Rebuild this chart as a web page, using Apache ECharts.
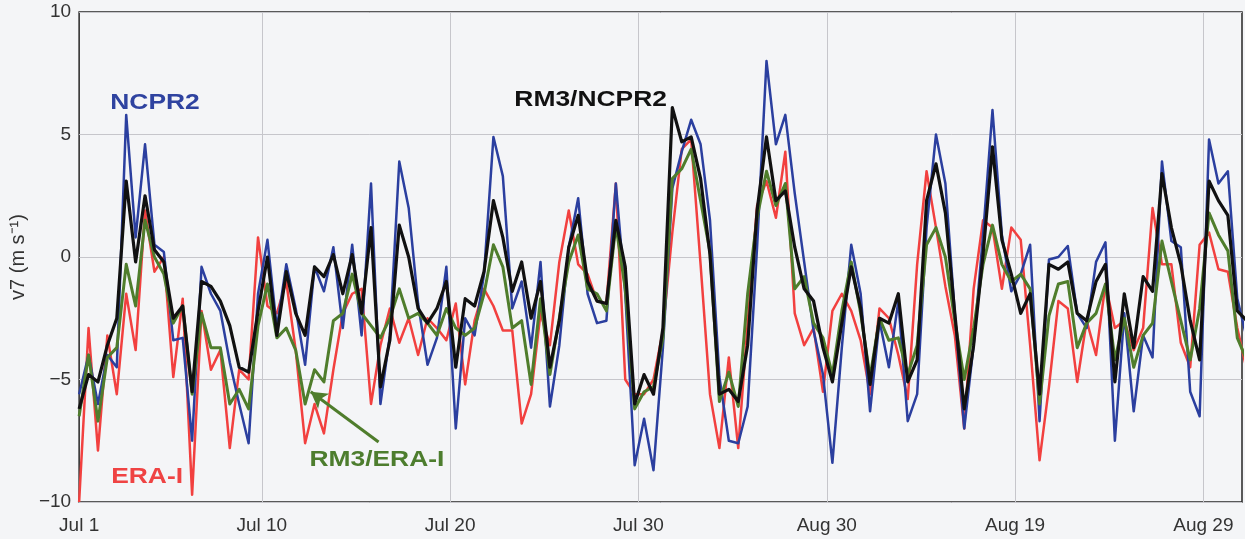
<!DOCTYPE html>
<html>
<head>
<meta charset="utf-8">
<script src="https://cdn.jsdelivr.net/npm/echarts@6.0.0/dist/echarts.min.js"></script>
<style>
  html, body { margin: 0; padding: 0; background: #f4f5f7; }
  #chart { width: 1245px; height: 539px; }
</style>
</head>
<body>
<div id="chart"></div>
<script>
// x = days after Jul 1 00:00, one value every 12 h
const START_DAY = -0.7;
const STEP_DAY = 0.5;
const tickDays = [9, 19, 29, 39, 49, 59];
const tickLabels = ['Jul 10', 'Jul 20', 'Jul 30', 'Aug 30', 'Aug 19', 'Aug 29'];
const firstLabel = 'Jul 1';
const yTicks = [-10, -5, 0, 5, 10];

// v7 (m s-1)
const ncpr2 = [
  -5.6, -4.0, -6.0, -4.0, -4.5, 5.8, 0.8, 4.6, 0.5, 0.2,
  -3.4, -3.3, -7.5, -0.4, -1.5, -2.2, -4.3, -6.0, -7.6, -1.5,
  0.7, -2.9, -0.3, -2.1, -4.4, -0.4, -1.4, 0.4, -2.9, 0.5,
  -3.2, 3.0, -6.0, -3.2, 3.9, 2.0, -1.9, -4.4, -3.3, -0.4,
  -7.0, -2.5, -3.2, -0.7, 4.9, 3.3, -2.1, -1.0, -3.7, -0.2,
  -6.1, -3.6, 0.4, 2.4, -1.5, -2.7, -2.6, 3.0, -1.5, -8.5,
  -6.6, -8.7, -3.7, 2.8, 4.3, 5.6, 4.6, 1.5, -4.9, -7.5,
  -7.6, -6.1, 0.4, 8.0, 4.6, 5.8, 2.6, -0.2, -3.0, -4.8,
  -8.4, -3.7, 0.5, -1.5, -6.3, -2.6, -4.5, -1.8, -6.7, -5.6,
  1.2, 5.0, 3.0, -2.3, -7.0, -3.6, 0.9, 6.0, 0.9, -1.4,
  -0.7, 0.5, -6.7, -0.1, 0.0, 0.45, -2.3, -2.9, -0.2, 0.6,
  -7.5, -2.3, -6.3, -3.2, -4.1, 3.9, 0.65, 0.4, -5.5, -6.5,
  4.8, 3.0, 3.5, -1.7, -3.3
];
const eraI = [
  -10.0, -2.9, -7.9, -3.2, -5.6, -1.5, -3.8, 1.9, -0.6, 0.0,
  -4.9, -1.7, -9.7, -2.2, -4.6, -3.8, -7.8, -4.6, -5.0, 0.8,
  -2.0, -2.3, -1.0, -3.8, -7.6, -6.0, -7.2, -4.6, -2.3, -1.5,
  -1.3, -6.0, -3.6, -2.1, -3.5, -2.5, -4.0, -2.5, -2.9, -3.4,
  -1.9, -5.2, -2.6, -1.3, -2.0, -3.0, -3.0, -6.8, -5.6, -2.3,
  -3.6, -0.2, 1.9, -0.3, -0.7, -1.8, -1.9, 3.0, -5.0, -5.6,
  -5.6, -5.0, -3.0, 1.0, 4.4, 4.8, -0.3, -5.6, -7.8, -4.1,
  -7.8, -2.7, 2.1, 3.1, 1.6, 4.3, -2.3, -3.6, -2.9, -5.5,
  -2.2, -1.5, -2.2, -3.4, -5.6, -2.1, -2.5, -4.0, -5.8, -0.3,
  3.5, 1.2, -1.2, -3.2, -7.0, -1.3, 1.5, 1.2, -1.3, 1.2,
  0.7, -3.6, -8.3, -5.3, -1.8, -2.1, -5.1, -2.6, -4.0, -1.1,
  -2.9, -2.6, -3.8, -2.9, 2.0, -0.3, -0.3, -3.5, -4.5, 0.5,
  1.0, -0.5, -0.6, -2.9, -4.6
];
const rm3Era = [
  -6.5, -4.0, -6.7, -4.1, -3.7, -0.3, -2.0, 1.5, 0.0, -0.7,
  -2.7, -2.0, -5.6, -2.3, -3.7, -3.7, -6.0, -5.4, -6.2, -2.8,
  -1.1, -3.3, -2.9, -3.8, -6.0, -4.6, -5.1, -2.6, -2.3, -0.7,
  -2.3, -2.8, -3.3, -2.5, -1.3, -2.5, -2.3, -2.7, -3.2, -2.1,
  -2.9, -3.2, -2.9, -1.5, 0.5, -0.4, -2.9, -2.6, -5.2, -1.7,
  -4.8, -2.5, -0.2, 0.9, -1.3, -1.5, -2.2, 1.3, -1.3, -6.2,
  -5.5, -5.3, -3.3, 3.2, 3.6, 4.4, 2.3, 0.2, -5.9, -4.7,
  -6.1, -1.5, 1.6, 3.5, 2.1, 3.0, -1.3, -0.8, -2.7, -3.3,
  -4.8, -2.2, -0.2, -2.3, -4.9, -2.5, -3.4, -3.3, -4.8, -3.6,
  0.5, 1.2, 0.0, -2.6, -5.0, -2.9, -0.3, 1.3, -0.3, -1.0,
  -0.7, -1.3, -6.0, -2.4, -1.1, -1.0, -3.7, -2.7, -2.3, -1.1,
  -4.2, -2.5, -4.5, -3.2, -2.7, 0.65, -1.0, -2.6, -4.2, -2.1,
  1.8, 0.9, 0.25, -3.3, -4.2
];
const rm3Ncpr2 = [
  -6.2, -4.8, -5.1, -3.6, -2.5, 3.1, -0.2, 2.5, 0.3, -0.2,
  -2.5, -2.0, -5.5, -1.0, -1.2, -1.8, -2.8, -4.5, -4.7, -2.2,
  0.0, -3.2, -0.6, -2.3, -3.2, -0.4, -0.8, 0.1, -1.5, 0.1,
  -2.3, 1.2, -5.3, -3.4, 1.3, 0.0, -2.1, -2.7, -2.1, -1.0,
  -4.5, -1.7, -2.0, -0.6, 2.3, 0.8, -1.4, -0.2, -2.5, -1.0,
  -4.5, -2.6, 0.4, 1.7, -1.0, -1.8, -1.9, 1.5, -0.4, -6.0,
  -4.8, -5.6, -2.9, 6.1, 4.7, 4.9, 3.2, 0.1, -5.6, -5.4,
  -5.9, -3.6, 1.9, 4.9, 2.3, 2.7, 0.4, -1.3, -1.8, -3.7,
  -5.1, -2.7, -0.4, -2.1, -5.2, -2.5, -2.7, -1.5, -5.1, -4.2,
  2.3, 3.8, 1.8, -2.3, -6.2, -3.6, 0.1, 4.5, 0.7, -0.7,
  -2.3, -1.5, -5.6, -0.3, -0.5, -0.2, -2.3, -2.6, -1.0, -0.3,
  -5.1, -1.5, -3.7, -0.8, -1.4, 3.4, 1.2, -0.3, -2.6, -4.2,
  3.1, 2.3, 1.7, -2.2, -2.6
];

// in-plot labels, placed in data coordinates [day, value]
const notes = [
  { text: 'NCPR2', day: 3.33, v: 6.3, color: '#2f43a0' },
  { text: 'RM3/NCPR2', day: 26.46, v: 6.4, color: '#111111' },
  { text: 'ERA-I', day: 2.91, v: -8.98, color: '#ef4343' },
  { text: 'RM3/ERA-I', day: 15.11, v: -8.29, color: '#4d7d2e' }
];
const arrowFrom = [15.2, -7.55];
const arrowTo = [11.6, -5.5];

const FONT = '"Liberation Sans", Arial, Helvetica, sans-serif';

const toPairs = (vals) => vals.map((v, i) => [START_DAY + i * STEP_DAY, v]);

const line = (name, vals, color, width, extra) => Object.assign({
  name: name,
  type: 'line',
  data: toPairs(vals),
  showSymbol: false,
  symbol: 'none',
  clip: true,
  lineStyle: { color: color, width: width, join: 'round' },
  itemStyle: { color: color }
}, extra || {});

const chart = echarts.init(document.getElementById('chart'));
chart.setOption({
  animation: false,
  backgroundColor: '#f4f5f7',
  grid: {
    left: 78, right: 3, top: 12, bottom: 37,
    show: true,
    borderColor: '#262626',
    borderWidth: 1.5,
    backgroundColor: 'transparent'
  },
  xAxis: {
    type: 'value',
    min: START_DAY,
    max: 61.05,
    axisLine: { show: false },
    axisTick: { show: false, customValues: tickDays },
    splitLine: { show: true, lineStyle: { color: '#c6c6cb', width: 1 } },
    axisLabel: {
      customValues: [START_DAY].concat(tickDays),
      formatter: (v) => (v < 0 ? firstLabel : tickLabels[tickDays.indexOf(Math.round(v))]),
      color: '#333',
      fontSize: 19,
      fontFamily: FONT,
      margin: 14,
      hideOverlap: false
    }
  },
  yAxis: {
    type: 'value',
    min: yTicks[0],
    max: yTicks[yTicks.length - 1],
    interval: 5,
    name: 'v7 (m s\u207B\u00B9)',
    nameLocation: 'middle',
    nameGap: 44,
    nameTextStyle: { color: '#333', fontSize: 20, fontFamily: FONT },
    axisLine: { show: false },
    axisTick: { show: false },
    splitLine: { show: true, lineStyle: { color: '#c6c6cb', width: 1 } },
    axisLabel: {
      formatter: (v) => String(v).replace('-', '\u2212'),
      color: '#333',
      fontSize: 19,
      fontFamily: FONT,
      margin: 8
    }
  },
  series: [
    line('ERA-I', eraI, '#f2403f', 2.5),
    line('NCPR2', ncpr2, '#2b3f9f', 2.5),
    line('RM3/ERA-I', rm3Era, '#4f7d2c', 3, {
      markLine: {
        silent: true,
        symbol: ['none', 'arrow'],
        symbolSize: [14, 16],
        label: { show: false },
        lineStyle: { color: '#4f7d2c', width: 3, type: 'solid' },
        data: [[{ coord: arrowFrom }, { coord: arrowTo }]]
      }
    }),
    line('RM3/NCPR2', rm3Ncpr2, '#111111', 3.2)
  ]
});

chart.setOption({
  graphic: notes.map((n) => {
    const p = chart.convertToPixel({ gridIndex: 0 }, [n.day, n.v]);
    return {
      type: 'text',
      x: p[0],
      y: p[1],
      scaleX: 1.2,
      z: 100,
      style: {
        text: n.text,
        fill: n.color,
        fontSize: 22,
        fontWeight: 'bold',
        fontFamily: FONT,
        align: 'center',
        verticalAlign: 'middle'
      }
    };
  })
});
</script>
</body>
</html>
